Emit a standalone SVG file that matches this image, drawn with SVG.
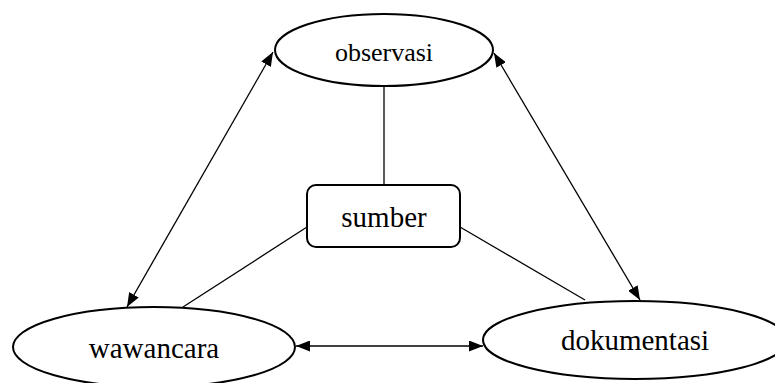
<svg xmlns="http://www.w3.org/2000/svg" width="775" height="383" viewBox="0 0 775 383">
<style>
.node{fill:#fff;stroke:#000;stroke-width:2}
.lbl{font-family:"Liberation Serif","Times New Roman",serif;fill:#000;text-anchor:middle}
.edge{stroke:#000;stroke-width:1.3;fill:none}
</style>
<defs>
<marker id="ah" viewBox="0 0 14 11" refX="14" refY="5.5" markerWidth="14" markerHeight="11" markerUnits="userSpaceOnUse" orient="auto-start-reverse">
<path d="M0,0 L14,5.5 L0,11 Z" fill="#000"/>
</marker>
</defs>
<rect width="775" height="383" fill="#fff"/>
<g id="connectors">
<line class="edge" x1="384" y1="86" x2="384" y2="185"/>
<line class="edge" x1="307" y1="227" x2="183" y2="307"/>
<line class="edge" x1="460" y1="227" x2="585" y2="300"/>
<line class="edge" x1="127" y1="307" x2="273" y2="52" marker-start="url(#ah)" marker-end="url(#ah)"/>
<line class="edge" x1="494" y1="53" x2="640" y2="300" marker-start="url(#ah)" marker-end="url(#ah)"/>
<line class="edge" x1="296" y1="346" x2="483" y2="346" marker-start="url(#ah)" marker-end="url(#ah)"/>
</g>
<g id="observasi">
<ellipse class="node" cx="384" cy="50" rx="109" ry="36"/>
<text class="lbl" x="384" y="61" font-size="26">observasi</text>
</g>
<g id="sumber">
<rect class="node" x="307" y="185" width="153" height="62" rx="9"/>
<text class="lbl" x="384" y="227" font-size="29">sumber</text>
</g>
<g id="wawancara">
<ellipse class="node" cx="154" cy="347" rx="141" ry="40"/>
<text class="lbl" x="154" y="358" font-size="29">wawancara</text>
</g>
<g id="dokumentasi">
<ellipse class="node" cx="635" cy="340" rx="152" ry="39"/>
<text class="lbl" x="635" y="350" font-size="29">dokumentasi</text>
</g>
</svg>
